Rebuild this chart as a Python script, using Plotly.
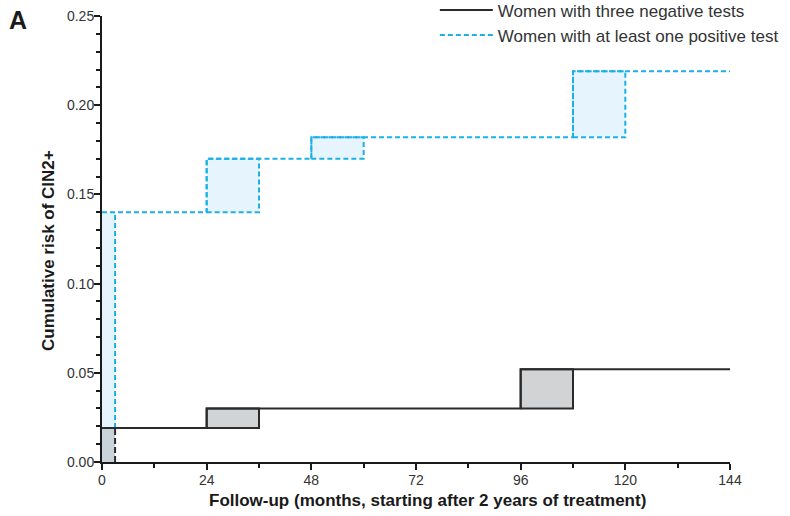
import plotly.graph_objects as go

# ---- data ----
x_ticks = [0, 24, 48, 72, 96, 120, 144]
y_ticks = [0.00, 0.05, 0.10, 0.15, 0.20, 0.25]

first_visit_end = 3  # months: end of the first (interval-censored) visit window

# Women with three negative tests: step levels and interval-censored boxes
neg_step_x = [0, 24, 24, 96, 96, 144]
neg_step_y = [0.019, 0.019, 0.030, 0.030, 0.052, 0.052]
neg_box_x0 = [24, 96]
neg_box_x1 = [36, 108]
neg_box_y0 = [0.019, 0.030]
neg_box_y1 = [0.030, 0.052]
neg_first = 0.019

# Women with at least one positive test
pos_step_x = [0, 24, 24, 48, 48, 108, 108, 144]
pos_step_y = [0.140, 0.140, 0.170, 0.170, 0.182, 0.182, 0.219, 0.219]
pos_box_x0 = [24, 48, 108]
pos_box_x1 = [36, 60, 120]
pos_box_y0 = [0.140, 0.170, 0.182]
pos_box_y1 = [0.170, 0.182, 0.219]
pos_first = 0.140

neg_name = "Women with three negative tests"
pos_name = "Women with at least one positive test"

BLUE = "#1ab0e8"
BLUE_FILL = "#e6f5fd"
DARK = "#2b2b2b"
GRAY_FILL = "#d2d3d5"
FONT = "Arial, Liberation Sans, sans-serif"

W, H = 790, 516
ML, MR, MT, MB = 102, 60, 16, 54
PW, PH = W - ML - MR, H - MT - MB

fig = go.Figure()


def rect(x0, x1, y0, y1):
    return [x0, x1, x1, x0, x0], [y0, y0, y1, y1, y0]


# first window fills (blue up to positive level, gray up to negative level)
rx, ry = rect(0, first_visit_end, 0, pos_first)
fig.add_trace(go.Scatter(x=rx, y=ry, fill="toself", fillcolor=BLUE_FILL, mode="none",
                         showlegend=False, hoverinfo="skip"))
rx, ry = rect(0, first_visit_end, 0, neg_first)
fig.add_trace(go.Scatter(x=rx, y=ry, fill="toself", fillcolor="#c9d3da", mode="none",
                         showlegend=False, hoverinfo="skip"))

# positive boxes
for a, b, c, d in zip(pos_box_x0, pos_box_x1, pos_box_y0, pos_box_y1):
    rx, ry = rect(a, b, c, d)
    fig.add_trace(go.Scatter(x=rx, y=ry, fill="toself", fillcolor=BLUE_FILL, mode="lines",
                             line=dict(color=BLUE, width=2, dash="5px,3px"),
                             showlegend=False, hoverinfo="skip"))
# negative boxes
for a, b, c, d in zip(neg_box_x0, neg_box_x1, neg_box_y0, neg_box_y1):
    rx, ry = rect(a, b, c, d)
    fig.add_trace(go.Scatter(x=rx, y=ry, fill="toself", fillcolor=GRAY_FILL, mode="lines",
                             line=dict(color=DARK, width=2),
                             showlegend=False, hoverinfo="skip"))

# dashed verticals at end of first window
fig.add_trace(go.Scatter(x=[first_visit_end, first_visit_end], y=[neg_first, pos_first],
                         mode="lines", line=dict(color=BLUE, width=2, dash="5px,3px"),
                         showlegend=False, hoverinfo="skip"))
fig.add_trace(go.Scatter(x=[first_visit_end, first_visit_end], y=[0, neg_first],
                         mode="lines", line=dict(color=DARK, width=2, dash="6px,3px"),
                         showlegend=False, hoverinfo="skip"))

# step lines (legend entries)
fig.add_trace(go.Scatter(x=neg_step_x, y=neg_step_y, mode="lines", name=neg_name,
                         line=dict(color=DARK, width=2)))
fig.add_trace(go.Scatter(x=pos_step_x, y=pos_step_y, mode="lines", name=pos_name,
                         line=dict(color=BLUE, width=2, dash="5px,3px")))

axis_common = dict(
    showgrid=False, zeroline=False, showline=True, linecolor="#1a1a1a", linewidth=2,
    ticks="outside", tickcolor="#1a1a1a", tickwidth=2, ticklen=6, automargin=False,
    ticklabeloverflow="allow",
    tickfont=dict(family=FONT, size=14, color="#333333"),
)

fig.update_xaxes(range=[0, 144], tickvals=x_ticks, **axis_common,
                 ticklabelstandoff=-2,
                 minor=dict(dtick=12, tick0=0, ticks="outside", ticklen=4, tickwidth=2,
                            tickcolor="#1a1a1a"))
fig.update_yaxes(range=[0, 0.25], tickvals=y_ticks, tickformat=".2f", **axis_common,
                 ticklabelstandoff=-3,
                 minor=dict(dtick=0.01, tick0=0, ticks="outside", ticklen=4, tickwidth=2,
                            tickcolor="#1a1a1a"))


def px_x(px):  # figure pixel -> paper x
    return (px - ML) / PW


def px_y(py):  # figure pixel -> paper y
    return (H - MB - py) / PH


fig.update_layout(
    width=W, height=H,
    margin=dict(l=ML, r=MR, t=MT, b=MB, autoexpand=False),
    paper_bgcolor="white", plot_bgcolor="white",
    font=dict(family=FONT, color="#333333"),
    showlegend=True,
    legend=dict(x=0.530, y=1.053, xanchor="left", yanchor="top",
                bgcolor="rgba(0,0,0,0)", font=dict(family=FONT, size=17, color="#333333"),
                tracegroupgap=0, itemwidth=53),
    annotations=[
        dict(text="<b>A</b>", xref="paper", yref="paper", x=px_x(7), y=px_y(20),
             xanchor="left", yanchor="middle", showarrow=False,
             font=dict(family=FONT, size=25, color="#1a1a1a")),
        dict(text="<b>Follow-up (months, starting after 2 years of treatment)</b>",
             xref="paper", yref="paper", x=px_x(427), y=px_y(500),
             xanchor="center", yanchor="middle", showarrow=False,
             font=dict(family=FONT, size=17, color="#1a1a1a")),
        dict(text="<b>Cumulative risk of CIN2+</b>", textangle=-90,
             xref="paper", yref="paper", x=px_x(48), y=px_y(251),
             xanchor="center", yanchor="middle", showarrow=False,
             font=dict(family=FONT, size=17, color="#1a1a1a")),
    ],
)

fig.write_html("out.html", config={"displayModeBar": False},
               post_script="document.body.style.margin='0';document.body.style.overflow='hidden';")
